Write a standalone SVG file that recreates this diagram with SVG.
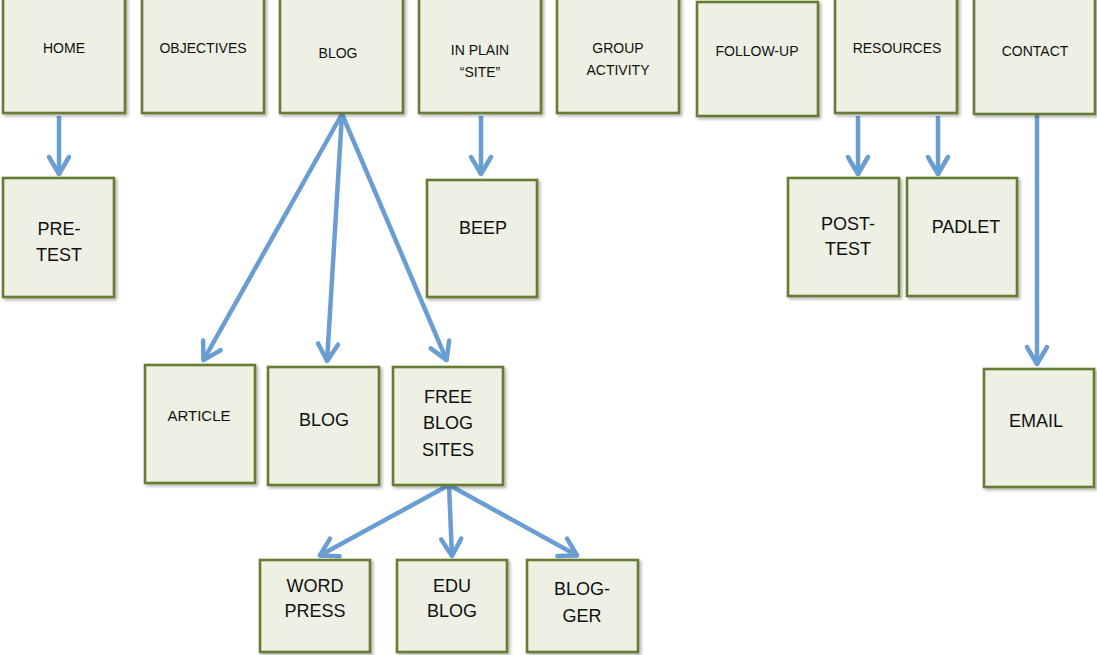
<svg xmlns="http://www.w3.org/2000/svg" width="1097" height="655" viewBox="0 0 1097 655">
<style>
.box{fill:#edf0e3;stroke:#667b34;stroke-width:2.6;filter:url(#sh)}
.t{font-family:"Liberation Sans",Arial,sans-serif;fill:#111;text-anchor:middle}
.s{font-size:14px}
.m{font-size:15px}
.l{font-size:18px}
.c{fill:none;stroke:#6a9ed3;stroke-width:4.5;marker-end:url(#ah)}
</style>
<defs>
<filter id="sh" x="-10%" y="-10%" width="125%" height="125%">
<feDropShadow dx="2" dy="2" stdDeviation="1.5" flood-color="#000" flood-opacity="0.3"/>
</filter>
<marker id="ah" markerUnits="userSpaceOnUse" viewBox="-22 -14 28 28" markerWidth="28" markerHeight="28" refX="1" refY="0" orient="auto">
<path d="M-17,-10 L0,0 L-17,10" fill="none" stroke="#6a9ed3" stroke-width="4.5" stroke-linecap="round" stroke-linejoin="round"/>
</marker>
</defs>
<rect width="1097" height="655" fill="#fff"/>
<g id="connectors">
<line class="c" x1="59" y1="116" x2="59" y2="175"/>
<line class="c" x1="342" y1="114" x2="203" y2="361"/>
<line class="c" x1="342" y1="114" x2="327" y2="362"/>
<line class="c" x1="342" y1="114" x2="447" y2="361"/>
<line class="c" x1="481" y1="116" x2="481" y2="175"/>
<line class="c" x1="858" y1="116" x2="858" y2="175"/>
<line class="c" x1="938" y1="116" x2="938" y2="175"/>
<line class="c" x1="1037" y1="114" x2="1037" y2="365"/>
<line class="c" x1="449" y1="485" x2="319" y2="556"/>
<line class="c" x1="449" y1="485" x2="452" y2="557"/>
<line class="c" x1="449" y1="485" x2="578" y2="556"/>
</g>
<g id="home"><rect class="box" x="3" y="-3" width="122" height="116"/><text class="t s" x="64" y="53">HOME</text></g>
<g id="objectives"><rect class="box" x="142" y="-3" width="122" height="116"/><text class="t s" x="203" y="53">OBJECTIVES</text></g>
<g id="blog"><rect class="box" x="280" y="-3" width="123" height="116"/><text class="t s" x="338" y="58">BLOG</text></g>
<g id="inplain"><rect class="box" x="419" y="-3" width="122" height="116"/><text class="t s" x="480" y="55">IN PLAIN</text><text class="t s" x="480" y="77">“SITE”</text></g>
<g id="group"><rect class="box" x="557" y="-3" width="122" height="116"/><text class="t s" x="618" y="53">GROUP</text><text class="t s" x="618" y="75">ACTIVITY</text></g>
<g id="followup"><rect class="box" x="697" y="2" width="121" height="114"/><text class="t s" x="757" y="56">FOLLOW-UP</text></g>
<g id="resources"><rect class="box" x="835" y="-3" width="122" height="116"/><text class="t s" x="897" y="53">RESOURCES</text></g>
<g id="contact"><rect class="box" x="974" y="-3" width="121" height="117"/><text class="t s" x="1035" y="56">CONTACT</text></g>
<g id="pretest"><rect class="box" x="3" y="178" width="111" height="119"/><text class="t l" x="59" y="235">PRE-</text><text class="t l" x="59" y="261">TEST</text></g>
<g id="beep"><rect class="box" x="427" y="180" width="110" height="117"/><text class="t l" x="483" y="234">BEEP</text></g>
<g id="posttest"><rect class="box" x="788" y="178" width="111" height="118"/><text class="t l" x="848" y="230">POST-</text><text class="t l" x="848" y="255">TEST</text></g>
<g id="padlet"><rect class="box" x="907" y="178" width="110" height="118"/><text class="t l" x="966" y="233">PADLET</text></g>
<g id="article"><rect class="box" x="145" y="365" width="110" height="118"/><text class="t m" x="199" y="421">ARTICLE</text></g>
<g id="blog2"><rect class="box" x="268" y="367" width="111" height="118"/><text class="t l" x="324" y="426">BLOG</text></g>
<g id="freeblog"><rect class="box" x="393" y="367" width="110" height="118"/><text class="t l" x="448" y="403">FREE</text><text class="t l" x="448" y="429">BLOG</text><text class="t l" x="448" y="456">SITES</text></g>
<g id="email"><rect class="box" x="984" y="369" width="110" height="118"/><text class="t l" x="1036" y="427">EMAIL</text></g>
<g id="wordpress"><rect class="box" x="260" y="560" width="110" height="92"/><text class="t l" x="315" y="592">WORD</text><text class="t l" x="315" y="617">PRESS</text></g>
<g id="edublog"><rect class="box" x="397" y="560" width="110" height="92"/><text class="t l" x="452" y="592">EDU</text><text class="t l" x="452" y="617">BLOG</text></g>
<g id="blogger"><rect class="box" x="527" y="560" width="111" height="92"/><text class="t l" x="582" y="595">BLOG-</text><text class="t l" x="582" y="622">GER</text></g>
</svg>
